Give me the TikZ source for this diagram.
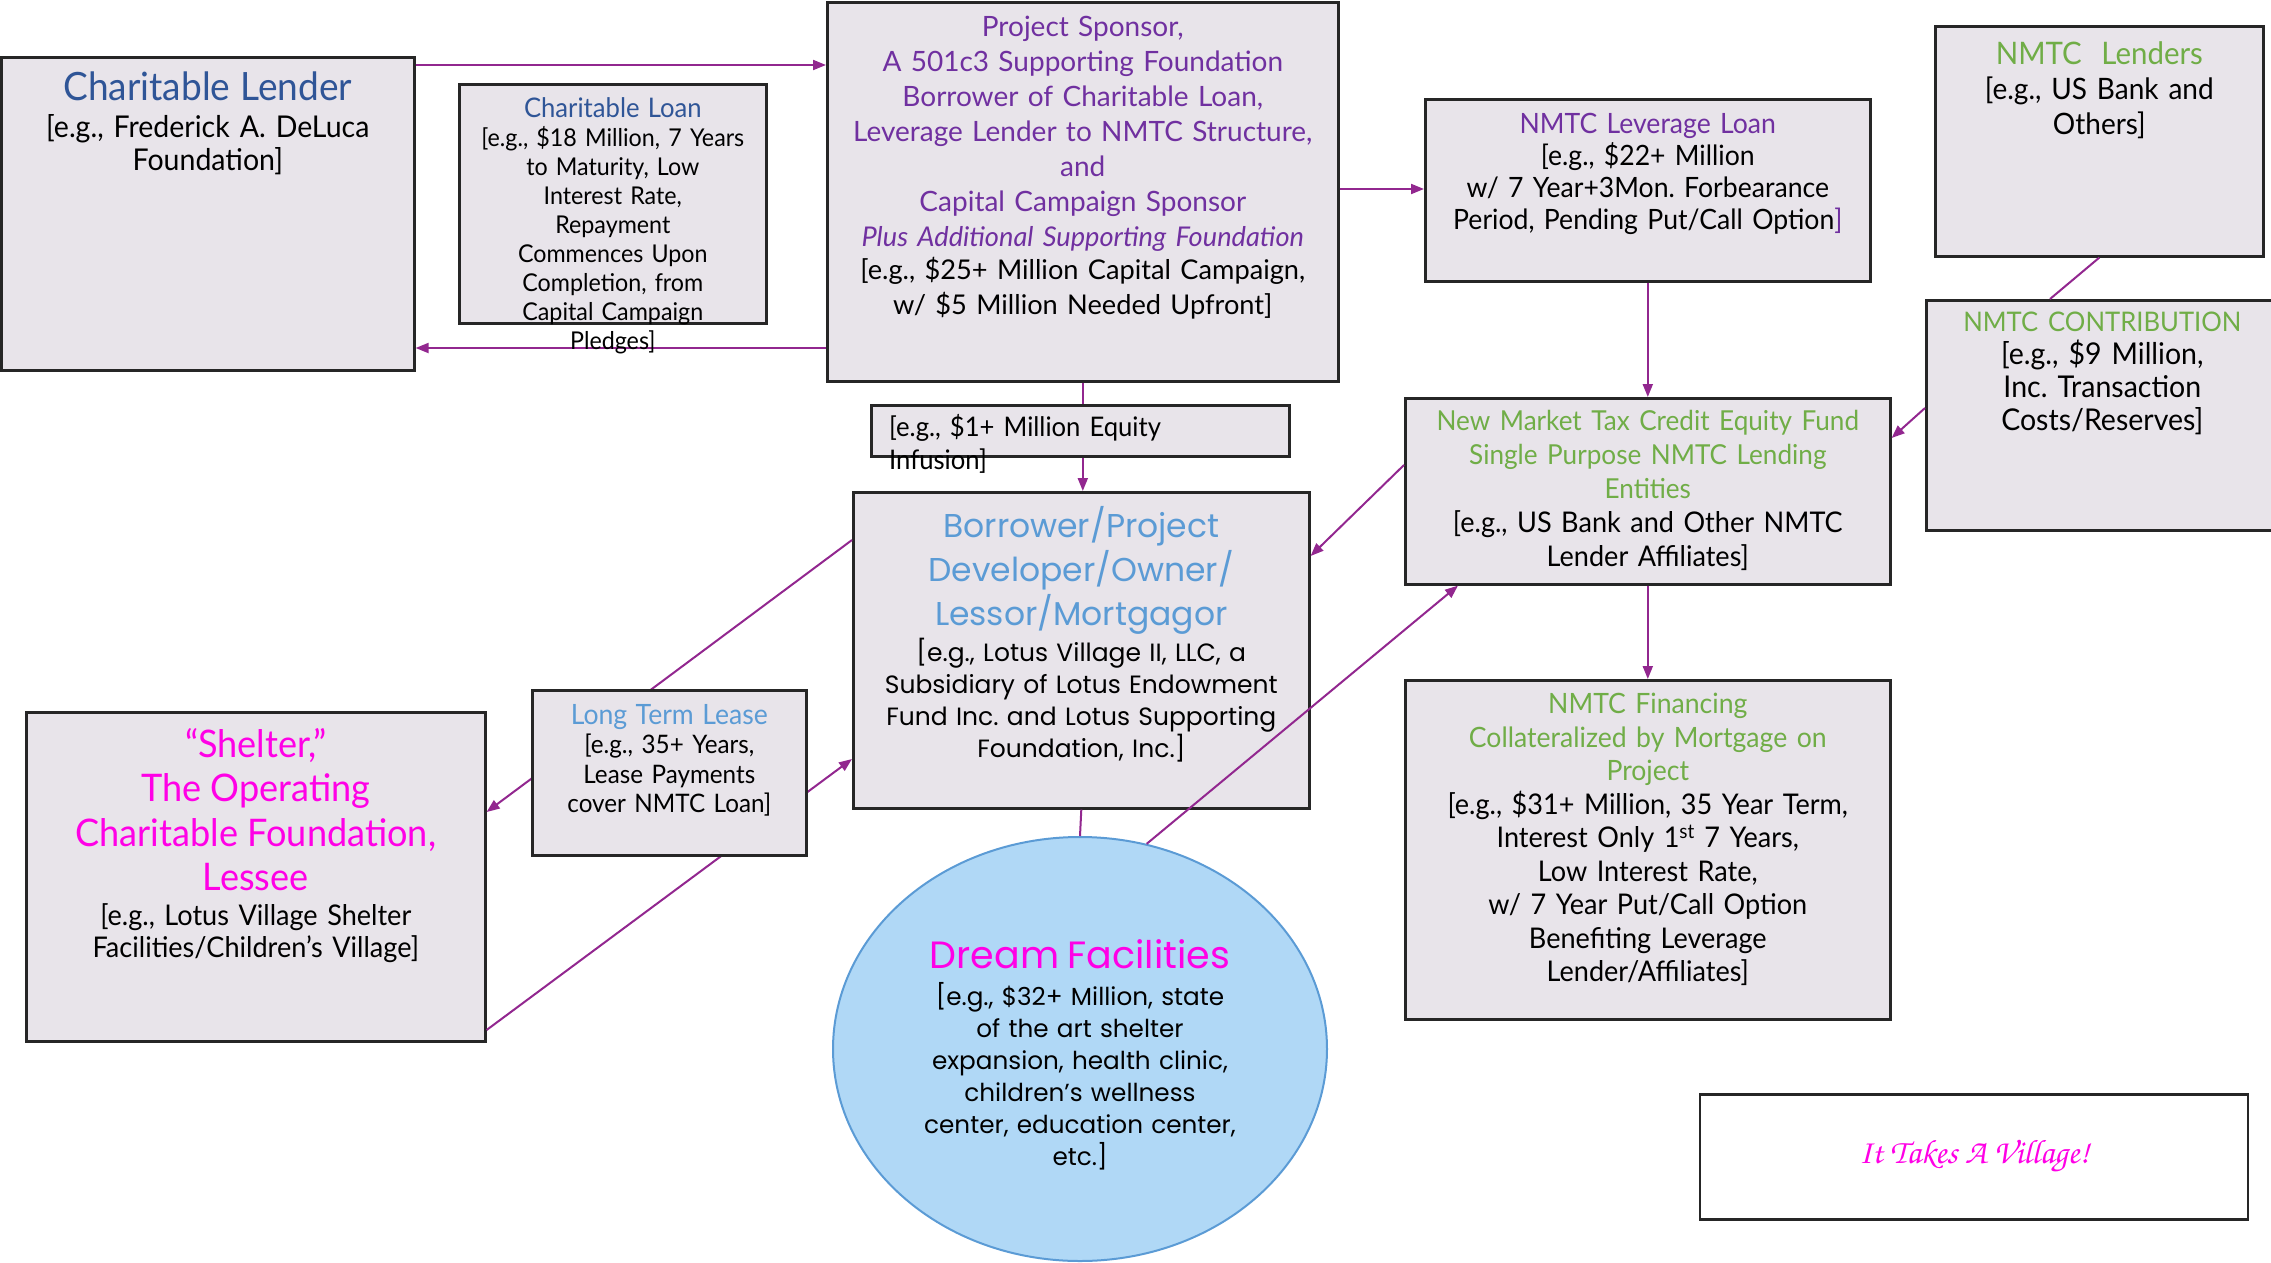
\documentclass[tikz,border=0pt]{standalone}
\usepackage[T1,TU]{fontenc}
\usepackage{fontspec}
\setmainfont{Lato}
\newfontfamily\narrowfont[FakeStretch=0.95,WordSpace=0.8]{Lato}
\newfontfamily\roundfont{Poppins}
\usetikzlibrary{positioning, calc, shapes.geometric, arrows.meta}
\frenchspacing

\definecolor{lenderblue}{RGB}{47,85,151}
\definecolor{sponsorpurple}{RGB}{112,48,160}
\definecolor{nmtcgreen}{RGB}{112,173,71}
\definecolor{devblue}{RGB}{91,155,213}
\definecolor{shelterpink}{RGB}{255,0,230}
\definecolor{flowpurple}{RGB}{146,39,143}
\definecolor{boxfill}{RGB}{232,228,234}
\definecolor{boxline}{RGB}{38,38,38}
\definecolor{dreamfill}{RGB}{176,216,246}

\newcommand\fs[2]{\fontsize{#1}{#2}\selectfont}
\newcommand\villagefont{\fontencoding{T1}\fontfamily{pzc}\fontseries{mb}\fontshape{it}\selectfont}

\tikzset{
  box/.style={draw=boxline, line width=2.6pt, fill=boxfill, anchor=north west, inner sep=0pt},
  boxtext/.style={anchor=north, inner sep=0pt, align=center, font=\narrowfont\fs{27}{33}},
  flow/.style={draw=flowpurple, line width=2pt, -{Triangle[length=13pt,width=10pt]}},
  link/.style={draw=flowpurple, line width=2pt}
}

\begin{document}
\begin{tikzpicture}[x=1pt,y=-1pt]
  \useasboundingbox (0,0) rectangle (2271,1263);
  % main boxes
  \node[box, minimum width=413pt, minimum height=313pt] (lender) at (0,56) {};
  \node[box, minimum width=511pt, minimum height=379pt] (sponsor) at (826,1) {};
  \node[box, minimum width=445pt, minimum height=182pt] (leverage) at (1424,98) {};
  \node[box, minimum width=328pt, minimum height=230pt] (lenders) at (1934,25) {};
  \node[box, minimum width=352pt, minimum height=230pt] (contrib) at (1925,299) {};
  \node[box, minimum width=485pt, minimum height=186pt] (cde) at (1404,397) {};
  \node[box, minimum width=456pt, minimum height=316pt] (borrower) at (852,491) {};
  \node[box, minimum width=459pt, minimum height=329pt] (shelter) at (25,711) {};
  \node[box, minimum width=485pt, minimum height=339pt] (financing) at (1404,679) {};
  \node[draw=devblue, line width=2pt, fill=dreamfill, ellipse, inner sep=0pt,
        minimum width=494pt, minimum height=424pt] (dream) at (1080,1049) {};
  \node[box, fill=white, anchor=center, minimum width=548pt, minimum height=125pt,
        font=\villagefont\fs{34}{36}, text=shelterpink] (village) at (1974,1157) {It Takes A Village!};

  % connectors
  \draw[flow] (lender.east |- 0,65) -- (sponsor.west |- 0,65);
  \draw[flow] (sponsor.west |- 0,348) -- (lender.east |- 0,348);
  \draw[flow] (sponsor.east |- 0,189) -- (leverage.west |- 0,189);
  \draw[flow] (leverage.south) -- (cde.north);
  \draw[link] (lenders.south) -- (contrib.north -| 2050,0);
  \draw[flow] (contrib.west |- 0,408) -- (cde.east |- 0,438);
  \draw[flow] (sponsor.south) -- (sponsor.south |- borrower.north);
  \draw[flow] (cde.west |- 0,465) -- (borrower.east |- 0,556);
  \draw[flow] (cde.south) -- (financing.north);
  \draw[flow] (dream.72) -- (cde.south -| 1458,0);
  \draw[link] (borrower.south) -- (dream.north);
  \draw[flow] (borrower.west |- 0,540) -- (shelter.east |- 0,812);
  \draw[flow] (shelter.east |- 0,1030) -- (borrower.west |- 0,759);

  % boxes over the connectors
  \node[box, minimum width=307pt, minimum height=239pt] (loan) at (458,83) {};
  \node[box, minimum width=418pt, minimum height=51pt] (equity) at (870,404) {};
  \node[box, minimum width=274pt, minimum height=165pt] (lease) at (531,689) {};

  % texts
  \node[boxtext, text width=405pt, font=\narrowfont\fs{30}{33}, below=16pt of lender.north] (lender-t)
    {{\fs{39}{40}\color{lenderblue}Charitable Lender\par}\vspace{4pt}
     [e.g., Frederick A. DeLuca\\ Foundation]};
  \node[boxtext, text width=305pt, font=\narrowfont\fs{24.5}{29}, below=14pt of loan.north] (loan-t)
    {{\fs{27}{29}\color{lenderblue}Charitable Loan}\\{}[e.g., \$18 Million, 7 Years\\ to Maturity, Low\\
     Interest Rate,\\ Repayment\\ Commences Upon\\ Completion, from\\ Capital Campaign\\ Pledges]};
  \node[boxtext, text width=505pt, font=\fs{28}{35}, below=15pt of sponsor.north] (sponsor-t)
    {{\color{sponsorpurple}Project Sponsor,\\ A 501c3 Supporting Foundation\\ Borrower of Charitable Loan,\\
     Leverage Lender to NMTC Structure,\\ and\\ Capital Campaign Sponsor\\
     {\itshape\fs{27.2}{32}Plus Additional Supporting Foundation}\par}
     {\fs{27.2}{33}[e.g., \$25+ Million Capital Campaign,\\ w/ \$5 Million Needed Upfront]}};
  \node[boxtext, anchor=north west, align=left, text width=400pt, below right=10pt and 19pt of equity.north west] (equity-t)
    {[e.g., \$1+ Million Equity\\ Infusion]};
  \node[boxtext, text width=440pt, font=\narrowfont\fs{28}{32}, below=15pt of leverage.north] (leverage-t)
    {{\color{sponsorpurple}NMTC Leverage Loan}\\{}[e.g., \$22+ Million\\ w/ 7 Year+3Mon. Forbearance\\
     Period, Pending Put/Call Option{\color{sponsorpurple}]}};
  \node[boxtext, text width=320pt, font=\narrowfont\fs{29.5}{35}, below=16pt of lenders.north] (lenders-t)
    {{\fs{31}{35}\color{nmtcgreen}NMTC\ \ Lenders}\\{}[e.g., US Bank and\\ Others]};
  \node[boxtext, text width=345pt, font=\narrowfont\fs{30}{33}, below=13pt of contrib.north] (contrib-t)
    {{\fs{27}{33}\color{nmtcgreen}NMTC CONTRIBUTION}\\{}[e.g., \$9 Million,\\ Inc. Transaction\\ Costs/Reserves]};
  \node[boxtext, text width=480pt, font=\narrowfont\fs{28.5}{34}, below=13pt of cde.north] (cde-t)
    {{\fs{27.5}{34}\color{nmtcgreen}New Market Tax Credit Equity Fund\\ Single Purpose NMTC Lending\\ Entities\par}
     [e.g., US Bank and Other NMTC\\ Lender Affiliates]};
  \node[boxtext, text width=450pt, font=\roundfont\fs{25}{32}, below=15pt of borrower.north] (borrower-t)
    {{\fs{33}{44}\color{devblue}Borrower/Project\\ Developer/Owner/\\ Lessor/Mortgagor\par}\vspace{3pt}
     [e.g., Lotus Village II, LLC, a\\ Subsidiary of Lotus Endowment\\ Fund Inc. and Lotus Supporting\\ Foundation, Inc.]};
  \node[boxtext, text width=420pt, font=\roundfont\fs{24.7}{32}, below=103pt of dream.north] (dream-t)
    {{\fs{38}{42}\color{shelterpink}Dream Facilities\par}\vspace{5pt}
     [e.g., \$32+ Million, state\\ of the art shelter\\ expansion, health clinic,\\ children’s wellness\\
     center, education center,\\ etc.]};
  \node[boxtext, text width=450pt, font=\narrowfont\fs{28.5}{32}, below=17pt of shelter.north] (shelter-t)
    {{\fs{38}{44.5}\color{shelterpink}“Shelter,”\\ The Operating\\ Charitable Foundation,\\ Lessee\par}\vspace{3pt}
     [e.g., Lotus Village Shelter\\ Facilities/Children’s Village]};
  \node[boxtext, text width=268pt, font=\narrowfont\fs{25.5}{29.5}, below=15pt of lease.north] (lease-t)
    {{\fs{28}{29.5}\color{devblue}Long Term Lease}\\{}[e.g., 35+ Years,\\ Lease Payments\\ cover NMTC Loan]};
  \node[boxtext, text width=480pt, font=\narrowfont\fs{28.5}{33.5}, below=14pt of financing.north] (financing-t)
    {{\fs{28}{33.5}\color{nmtcgreen}NMTC Financing\\ Collateralized by Mortgage on\\ Project\par}
     [e.g., \$31+ Million, 35 Year Term,\\ Interest Only 1\textsuperscript{st} 7 Years,\\ Low Interest Rate,\\
     w/ 7 Year Put/Call Option\\ Benefiting Leverage\\ Lender/Affiliates]};
\end{tikzpicture}
\end{document}
